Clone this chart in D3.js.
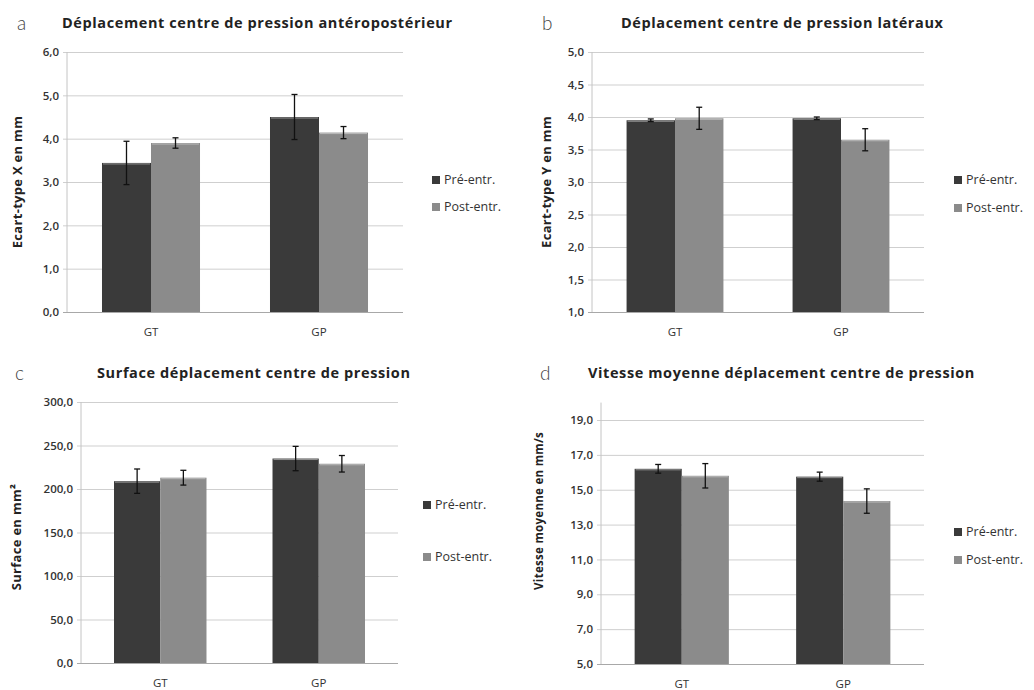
<!DOCTYPE html>
<html>
<head>
<meta charset="utf-8">
<script src="https://cdn.jsdelivr.net/npm/d3@7"></script>
<style>
  body { margin: 0; background: #fff; }
  svg { font-family: "Open Sans", "Noto Sans", sans-serif; }
</style>
</head>
<body>
<svg id="chart" width="1034" height="690"></svg>
<script>
const groups = ['GT', 'GP'];
const seriesNames = ['Pré-entr.', 'Post-entr.'];

// a - antéropostérieur
const ecartXPre = [3.44, 4.50];
const ecartXPost = [3.90, 4.14];
const ecartXPreErr = [0.50, 0.52];
const ecartXPostErr = [0.12, 0.14];
const ticksA = [0, 1, 2, 3, 4, 5, 6];

// b - latéraux
const ecartYPre = [3.95, 3.98];
const ecartYPost = [3.98, 3.65];
const ecartYPreErr = [0.02, 0.02];
const ecartYPostErr = [0.17, 0.17];
const ticksB = [1, 1.5, 2, 2.5, 3, 3.5, 4, 4.5, 5];

// c - surface
const surfacePre = [209, 235];
const surfacePost = [213, 229];
const surfacePreErr = [14, 14];
const surfacePostErr = [8.5, 9.5];
const ticksC = [0, 50, 100, 150, 200, 250, 300];

// d - vitesse
const vitessePre = [16.2, 15.75];
const vitessePost = [15.8, 14.35];
const vitessePreErr = [0.25, 0.26];
const vitessePostErr = [0.7, 0.7];
const ticksD = [5, 7, 9, 11, 13, 15, 17, 19];

const colors = { 'Pré-entr.': '#3a3a3a', 'Post-entr.': '#8b8b8b' };
const fmt = v => d3.format('.1f')(v).replace('.', ',');

const svg = d3.select('#chart');

function drawPanel(p) {
  const g = svg.append('g');

  const y = d3.scaleLinear().domain(p.domain).range([p.bottom, p.top]);
  const x0 = d3.scaleBand().domain(groups).range([p.left, p.right]).padding(0);
  const x1 = d3.scaleBand().domain(seriesNames).range([0, x0.bandwidth()])
    .paddingInner(0).paddingOuter(0.714);

  // gridlines + tick labels
  g.append('g')
    .attr('transform', `translate(${p.left},0)`)
    .call(d3.axisLeft(y).tickValues(p.ticks).tickFormat(fmt)
      .tickSize(-(p.right - p.left)).tickPadding(8))
    .call(a => a.select('.domain').remove())
    .call(a => a.selectAll('.tick line')
      .attr('x1', -4)
      .attr('stroke', d => d === p.domain[0] ? '#a8a8a8' : '#cfcfcf'))
    .call(a => a.selectAll('.tick text')
      .attr('fill', '#333').style('font-size', '11.5px').style('font-weight', 600)
      .style('font-family', '"Open Sans", sans-serif'));

  // vertical axis line
  g.append('line')
    .attr('x1', p.left).attr('x2', p.left)
    .attr('y1', y(p.domain[0])).attr('y2', y(p.domain[1]))
    .attr('stroke', '#c4c4c4');

  const rows = groups.map((grp, i) => [
    { grp, s: seriesNames[0], v: p.pre[i], e: p.preErr[i] },
    { grp, s: seriesNames[1], v: p.post[i], e: p.postErr[i] }
  ]).flat();

  g.selectAll('rect.bar').data(rows).enter().append('rect')
    .attr('class', 'bar')
    .attr('x', d => x0(d.grp) + x1(d.s))
    .attr('y', d => y(d.v))
    .attr('width', x1.bandwidth())
    .attr('height', d => y(p.domain[0]) - y(d.v))
    .attr('fill', d => colors[d.s]);

  // light top edge
  g.selectAll('line.edge').data(rows).enter().append('line')
    .attr('class', 'edge')
    .attr('x1', d => x0(d.grp) + x1(d.s) + 1)
    .attr('x2', d => x0(d.grp) + x1(d.s) + x1.bandwidth() - 1)
    .attr('y1', d => y(d.v) + 1).attr('y2', d => y(d.v) + 1)
    .attr('stroke', '#ececec').attr('stroke-opacity', 0.5);

  // error bars
  const eb = g.selectAll('g.err').data(rows).enter().append('g')
    .attr('class', 'err')
    .attr('transform', d => `translate(${x0(d.grp) + x1(d.s) + x1.bandwidth() / 2},0)`);
  eb.append('line')
    .attr('y1', d => y(d.v + d.e)).attr('y2', d => y(d.v - d.e))
    .attr('stroke', '#111').attr('stroke-width', 1.3);
  eb.append('line')
    .attr('x1', -3).attr('x2', 3)
    .attr('y1', d => y(d.v + d.e)).attr('y2', d => y(d.v + d.e))
    .attr('stroke', '#111').attr('stroke-width', 1.3);
  eb.append('line')
    .attr('x1', -3).attr('x2', 3)
    .attr('y1', d => y(d.v - d.e)).attr('y2', d => y(d.v - d.e))
    .attr('stroke', '#111').attr('stroke-width', 1.3);

  // category labels
  g.selectAll('text.cat').data(groups).enter().append('text')
    .attr('class', 'cat')
    .attr('x', d => x0(d) + x0.bandwidth() / 2)
    .attr('y', p.bottom + 24)
    .attr('text-anchor', 'middle')
    .attr('fill', '#333').style('font-size', '11.5px')
    .text(d => d);

  // title and panel letter
  g.append('text')
    .attr('x', p.titleX).attr('y', p.titleY)
    .attr('fill', '#222').style('font-size', '14.5px').style('font-weight', 700)
    .style('letter-spacing', '0.6px')
    .text(p.title);
  g.append('text')
    .attr('x', p.letterX).attr('y', p.titleY + 2)
    .attr('fill', '#444').style('font-size', '19px').style('font-weight', 300)
    .style('font-family', 'Lato, sans-serif')
    .text(p.letter);

  // y label
  g.append('text')
    .attr('transform', `translate(${p.ylabX},${p.ylabY}) rotate(-90)`)
    .attr('text-anchor', 'middle')
    .attr('fill', '#222').style('font-size', p.ylabSize).style('font-weight', 700)
    .style('letter-spacing', '0.3px')
    .text(p.ylab);

  // legend
  const lg = g.selectAll('g.leg').data(seriesNames).enter().append('g')
    .attr('class', 'leg')
    .attr('transform', (d, i) => `translate(${p.legX},${p.legY[i]})`);
  lg.append('rect')
    .attr('x', 0).attr('y', -8).attr('width', 8).attr('height', 8)
    .attr('fill', d => colors[d]);
  lg.append('text')
    .attr('x', 12).attr('y', 0)
    .attr('fill', '#333').style('font-size', '12.5px')
    .text(d => d);
}

drawPanel({
  letter: 'a', title: 'Déplacement centre de pression antéropostérieur',
  ylab: 'Ecart-type X en mm', ylabSize: '13px',
  pre: ecartXPre, post: ecartXPost, preErr: ecartXPreErr, postErr: ecartXPostErr,
  domain: [0, 6], ticks: ticksA,
  left: 67, right: 403, top: 52, bottom: 312,
  titleX: 62, titleY: 28, letterX: 17,
  ylabX: 22, ylabY: 182, legX: 432, legY: [184, 211]
});

drawPanel({
  letter: 'b', title: 'Déplacement centre de pression latéraux',
  ylab: 'Ecart-type Y en mm', ylabSize: '13px',
  pre: ecartYPre, post: ecartYPost, preErr: ecartYPreErr, postErr: ecartYPostErr,
  domain: [1, 5], ticks: ticksB,
  left: 592, right: 924, top: 52, bottom: 312,
  titleX: 621, titleY: 28, letterX: 542,
  ylabX: 551, ylabY: 182, legX: 954, legY: [184, 212]
});

drawPanel({
  letter: 'c', title: 'Surface déplacement centre de pression',
  ylab: 'Surface en mm²', ylabSize: '13px',
  pre: surfacePre, post: surfacePost, preErr: surfacePreErr, postErr: surfacePostErr,
  domain: [0, 300], ticks: ticksC,
  left: 81, right: 398, top: 402, bottom: 663,
  titleX: 97, titleY: 378, letterX: 15,
  ylabX: 21, ylabY: 537, legX: 423, legY: [509, 561]
});

drawPanel({
  letter: 'd', title: 'Vitesse moyenne déplacement centre de pression',
  ylab: 'Vitesse moyenne en mm/s', ylabSize: '11.5px',
  pre: vitessePre, post: vitessePost, preErr: vitessePreErr, postErr: vitessePostErr,
  domain: [5, 20], ticks: ticksD,
  left: 601, right: 924, top: 402.6, bottom: 664,
  titleX: 588, titleY: 378, letterX: 540,
  ylabX: 543, ylabY: 511, legX: 954, legY: [536, 564]
});
</script>
</body>
</html>
